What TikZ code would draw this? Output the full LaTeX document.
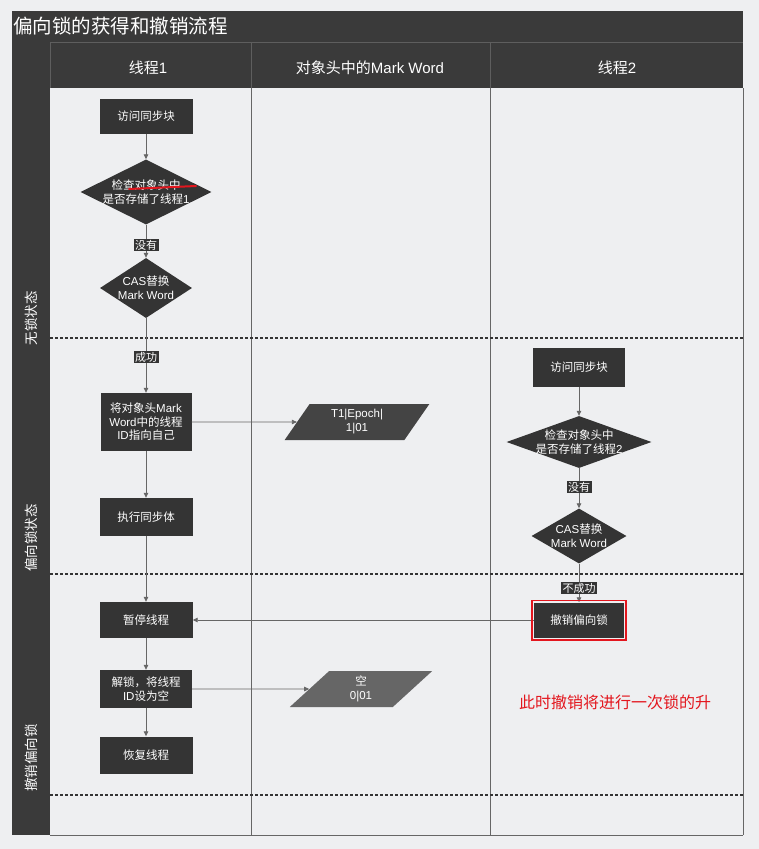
\documentclass[tikz,border=0pt]{standalone}
\usepackage{fontspec}
\setmainfont{Noto Sans CJK SC}
\newfontfamily\lat{Liberation Sans}
\usetikzlibrary{shapes.geometric,arrows.meta}
\definecolor{bg}{HTML}{EEEFF1}
\definecolor{dk}{HTML}{343434}
\definecolor{hd}{HTML}{3A3A3A}
\definecolor{hl}{HTML}{5E5E5E}
\definecolor{ln}{HTML}{666666}
\definecolor{pa}{HTML}{444444}
\definecolor{pb}{HTML}{666666}
\definecolor{redc}{HTML}{E3161E}
\begin{document}
\begin{tikzpicture}[x=1pt,y=-1pt,
  txtf/.style={font=\fontsize{11.5}{14}\selectfont},
  box/.style={txtf, fill=dk, text=white, align=center, minimum width=93pt, minimum height=36pt, inner sep=2pt},
  dia/.style={txtf, diamond, fill=dk, text=white, align=center, inner sep=-16pt},
  para/.style={txtf, trapezium, trapezium left angle=62, trapezium right angle=118, trapezium stretches=true, minimum width=145pt, minimum height=36pt, text=white, align=center, inner sep=1pt},
  tag/.style={fill=dk, text=white, font=\fontsize{11}{12}\selectfont, inner xsep=1.5pt, inner ysep=0.5pt},
  arr/.style={draw=ln, line width=0.8pt, -{Triangle[length=5pt,width=4.5pt]}},
  sep/.style={draw=ln, line width=0.7pt},
  hsep/.style={draw=hl, line width=0.8pt},
  dsh/.style={draw=dk, line width=1.9pt, dash pattern=on 3pt off 2pt},
  lane/.style={rotate=90, text=white, font=\fontsize{13.5}{15}\selectfont},
  head/.style={text=white, font=\fontsize{15}{17}\selectfont},
]
\useasboundingbox (0,0) rectangle (759,849);
\fill[bg] (0,0) rectangle (759,849);
% frame
\fill[hd] (12,11) rectangle (743,88);
\fill[hd] (12,88) rectangle (50,835);
\draw[hsep] (50,42) -- (743,42);
\draw[hsep] (50,42) -- (50,88);
\draw[hsep] (251,42) -- (251,88);
\draw[hsep] (490,42) -- (490,88);
\draw[sep] (251,88) -- (251,835);
\draw[sep] (490,88) -- (490,835);
\draw[sep] (743,88) -- (743,835);
\draw[sep] (50,835) -- (743,835);
% title and headers
\node[text=white, font=\fontsize{19.5}{21}\selectfont, anchor=west, inner sep=0pt] (title) at (13,26) {偏向锁的获得和撤销流程};
\node[head] (h1) at (148,68) {线程{\lat 1}};
\node[head] (h2) at (370,68) {对象头中的{\lat Mark Word}};
\node[head] (h3) at (617,68) {线程{\lat 2}};
% lane labels
\node[lane] (l1) at (31,318) {无锁状态};
\node[lane] (l2) at (31,538) {偏向锁状态};
\node[lane] (l3) at (31,758) {撤销偏向锁};
% dashed lane separators
\draw[dsh] (50,338) -- (743,338);
\draw[dsh] (50,574) -- (743,574);
\draw[dsh] (50,795) -- (743,795);
% thread 1
\node[box, minimum height=35pt] (a1) at (146,116) {访问同步块};
\node[dia, minimum width=131pt, minimum height=65pt] (d1) at (146,192) {检查对象头中\\是否存储了线程{\lat 1}};
\node[dia, minimum width=92pt, minimum height=60pt] (d2) at (146,288) {{\lat CAS}替换\\{\lat Mark Word}};
\node[box, minimum width=91pt, minimum height=58pt, font=\fontsize{11.5}{13.5}\selectfont] (r3) at (146,422) {将对象头{\lat Mark}\\{\lat Word}中的线程\\{\lat ID}指向自己};
\node[box, minimum height=38pt] (r4) at (146,517) {执行同步体};
\node[box] (r5) at (146,620) {暂停线程};
\node[box, minimum width=92pt, minimum height=38pt] (r6) at (146,689) {解锁，将线程\\{\lat ID}设为空};
\node[box, minimum height=37pt] (r7) at (146,755) {恢复线程};
% mark word
\node[para, fill=pa] (p1) at (357,422) {\lat T1|Epoch|\\\lat 1|01};
\node[para, fill=pb, minimum width=143pt] (p2) at (361,689) {空\\\lat 0|01};
% thread 2
\node[box, minimum width=92pt, minimum height=39pt] (b1) at (579,367) {访问同步块};
\node[dia, minimum width=145pt, minimum height=52pt] (e1) at (579,442) {检查对象头中\\是否存储了线程{\lat 2}};
\node[dia, minimum width=95pt, minimum height=55pt] (e2) at (579,536) {{\lat CAS}替换\\{\lat Mark Word}};
\node[box, minimum width=90pt, minimum height=35pt] (b2) at (579,620) {撤销偏向锁};
% arrows thread 1
\draw[arr] (a1) -- (d1);
\draw[arr] (d1) -- (d2);
\draw[arr] (d2) -- (r3);
\draw[arr] (r3) -- (r4);
\draw[arr] (r4) -- (r5);
\draw[arr] (r5) -- (r6);
\draw[arr] (r6) -- (r7);
\draw[arr] (r3) -- (p1);
\draw[arr] (r6) -- (p2);
% arrows thread 2
\draw[arr] (b1) -- (e1);
\draw[arr] (e1) -- (e2);
\draw[arr] (e2) -- (b2);
\draw[arr] (b2) -- (r5);
% tags
\node[tag] (t1) at (146,245) {没有};
\node[tag] (t2) at (146,357) {成功};
\node[tag] (t3) at (579,487) {没有};
\node[tag] (t4) at (579,588) {不成功};
% red annotations
\draw[redc, line width=1.6pt] ([shift={(-2,-2)}]b2.north west) rectangle ([shift={(2,2)}]b2.south east);
\coordinate (u1) at (129,189);
\coordinate (u2) at (196,186);
\draw[redc, line width=2pt, line cap=round] (u1) -- (u2);
\node[text=redc, font=\fontsize{16}{18}\selectfont] (note) at (615,702) {此时撤销将进行一次锁的升};
\end{tikzpicture}
\end{document}
